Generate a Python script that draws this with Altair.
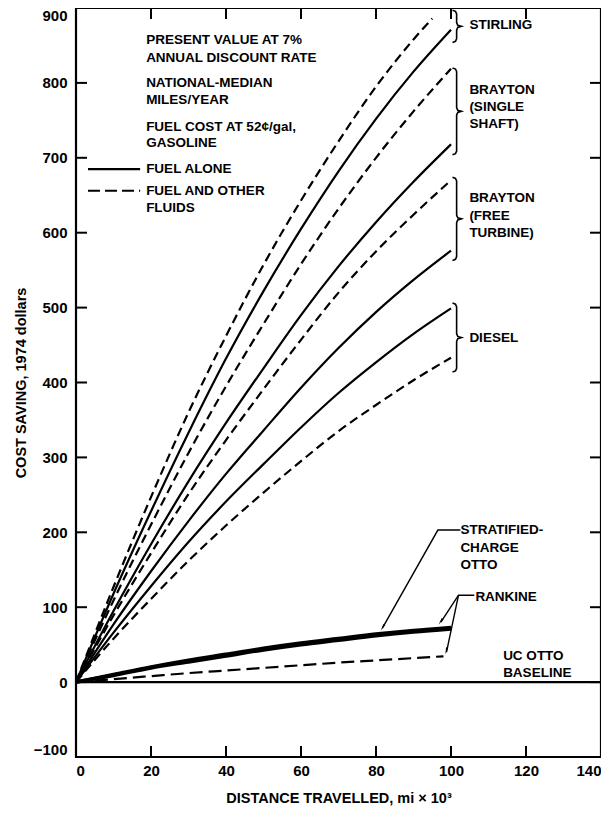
import altair as alt
import pandas as pd

# ---------------- data ----------------
distance = [0, 10, 20, 30, 40, 50, 60, 70, 80, 90, 100]
stirling_fuel = [0, 118, 228, 333, 432, 522, 605, 682, 752, 815, 871]
stirling_fluids_x = [0, 10, 20, 30, 40, 50, 60, 70, 80, 90, 95]
stirling_fluids = [0, 127, 247, 360, 462, 557, 643, 722, 795, 858, 886]
bss_fuel = [0, 95, 184, 268, 346, 419, 490, 555, 614, 668, 718]
bss_fluids = [0, 109, 210, 306, 395, 478, 558, 632, 700, 762, 819]
bft_fuel = [0, 77, 148, 215, 278, 336, 393, 446, 494, 537, 576]
bft_fluids = [0, 89, 172, 251, 323, 391, 457, 520, 575, 624, 670]
diesel_fuel = [0, 66, 128, 187, 241, 291, 340, 386, 427, 465, 499]
diesel_fluids = [0, 58, 111, 162, 209, 253, 295, 335, 370, 403, 433]
sc_otto_fuel = [0, 10, 20, 29, 37, 45, 52, 58, 64, 69, 73]
rankine_fuel = [0, 9, 19, 27, 35, 43, 50, 56, 62, 67, 71]
rankine_fluids_x = [0, 10, 20, 30, 40, 50, 60, 70, 80, 90, 98]
rankine_fluids = [0, 4, 8, 12, 15.5, 19, 22.5, 26, 29, 32, 34.5]

x_ticks = [0, 20, 40, 60, 80, 100, 120, 140]
y_ticks = [-100, 0, 100, 200, 300, 400, 500, 600, 700, 800, 900]

# brace extents (top, bottom) for each engine group
brace_top = [897, 820, 674, 506]
brace_bottom = [854, 704, 563, 414]

# annotation texts (x, y in data units)
notes_text = ["PRESENT VALUE AT 7%", "ANNUAL DISCOUNT RATE", "NATIONAL-MEDIAN",
              "MILES/YEAR", "FUEL COST AT 52¢/gal,", "GASOLINE", "FUEL ALONE",
              "FUEL AND OTHER", "FLUIDS",
              "STIRLING", "BRAYTON", "(SINGLE", "SHAFT)", "BRAYTON", "(FREE",
              "TURBINE)", "DIESEL", "STRATIFIED-", "CHARGE", "OTTO", "RANKINE",
              "UC OTTO", "BASELINE"]
notes_x = [18.7] * 9 + [104.9] * 8 + [102.5, 102.5, 102.5, 106.5, 113.9, 113.9]
notes_y = [857, 833, 800, 777, 741, 720, 685, 656, 633,
           877, 790, 768, 745, 646, 622, 600, 459,
           203, 179, 156, 114, 35, 12]

# leader lines (label -> curve)
leader_id = [0, 0, 0, 1, 1, 1, 2, 2]
leader_x = [102.5, 96.5, 81.7, 106.2, 102.0, 97.3, 102.0, 98.8]
leader_y = [203, 203, 72, 116, 116, 80, 116, 40]
arrow_x = [81.9, 97.4, 98.8]
arrow_y = [74, 82, 43]
arrow_angle = [210, 214, 193]

W, H = 525, 749
FONT = "Liberation Sans"


def X(field="x"):
    return alt.X(f"{field}:Q", scale=alt.Scale(domain=[0, 140], nice=False, zero=False),
                 axis=alt.Axis(title="DISTANCE TRAVELLED, mi × 10³", values=x_ticks,
                               labelFlush=True, labelPadding=6, titleY=41,
                               titleBaseline="middle"))


def Y(field="y"):
    return alt.Y(f"{field}:Q", scale=alt.Scale(domain=[-100, 900], nice=False, zero=False),
                 axis=alt.Axis(title="COST SAVING, 1974 dollars", values=y_ticks,
                               labelFlush=True, labelPadding=9, titleX=-55,
                               titleBaseline="middle"))


def series_df(xs, ys, name):
    return pd.DataFrame({"x": xs, "y": ys, "name": name, "i": list(range(len(xs)))})


solid_df = pd.concat([
    series_df(distance, stirling_fuel, "stirling"),
    series_df(distance, bss_fuel, "bss"),
    series_df(distance, bft_fuel, "bft"),
    series_df(distance, diesel_fuel, "diesel"),
])
dashed_df = pd.concat([
    series_df(stirling_fluids_x, stirling_fluids, "stirling"),
    series_df(distance, bss_fluids, "bss"),
    series_df(distance, bft_fluids, "bft"),
    series_df(distance, diesel_fluids, "diesel"),
])
thick_df = pd.concat([
    series_df(distance, sc_otto_fuel, "sc otto"),
    series_df(distance, rankine_fuel, "rankine"),
])
rank_dash_df = series_df(rankine_fluids_x, rankine_fluids, "rankine fluids")

base_line = alt.Chart(solid_df).mark_line(color="black", strokeWidth=2.2,
                                          interpolate="monotone").encode(
    x=X(), y=Y(), detail="name:N", order="i:Q")
dashed_lines = alt.Chart(dashed_df).mark_line(color="black", strokeWidth=2.2,
                                              interpolate="monotone",
                                              strokeDash=[9, 5]).encode(
    x=X(), y=Y(), detail="name:N", order="i:Q")
thick_lines = alt.Chart(thick_df).mark_line(color="black", strokeWidth=3.6,
                                            interpolate="monotone").encode(
    x=X(), y=Y(), detail="name:N", order="i:Q")
rank_dash = alt.Chart(rank_dash_df).mark_line(color="black", strokeWidth=2.2,
                                              interpolate="monotone",
                                              strokeDash=[13, 6]).encode(
    x=X(), y=Y(), order="i:Q")

# zero baseline (UC Otto)
zero_df = pd.DataFrame({"x": [0, 140], "y": [0, 0]})
zero_line = alt.Chart(zero_df).mark_line(color="black", strokeWidth=2.2).encode(x=X(), y=Y())

# legend sample lines
leg_df = pd.DataFrame({"x": [3.2, 17.1, 3.2, 17.1], "y": [685, 685, 656, 656],
                       "k": ["s", "s", "d", "d"]})
leg_solid = alt.Chart(leg_df[leg_df.k == "s"]).mark_line(color="black", strokeWidth=2.2).encode(
    x=X(), y=Y())
leg_dash = alt.Chart(leg_df[leg_df.k == "d"]).mark_line(color="black", strokeWidth=2.2,
                                                        strokeDash=[12, 5]).encode(
    x=X(), y=Y())

# braces built from the group extents
brace_rows = []
for b, (t, btm) in enumerate(zip(brace_top, brace_bottom)):
    m = (t + btm) / 2.0
    h = 5.0
    pts = [(100.4, t), (101.2, t - 1.5), (101.5, t - h), (101.5, m + h), (101.8, m + 1.5),
           (102.8, m), (101.8, m - 1.5), (101.5, m - h), (101.5, btm + h),
           (101.2, btm + 1.5), (100.4, btm)]
    for i, (px, py) in enumerate(pts):
        brace_rows.append({"b": b, "i": i, "x": px, "y": py})
brace_df = pd.DataFrame(brace_rows)
braces = alt.Chart(brace_df).mark_line(color="black", strokeWidth=1.6).encode(
    x=X(), y=Y(), detail="b:N", order="i:Q")

# leader lines and arrowheads
lead_df = pd.DataFrame({"g": leader_id, "x": leader_x, "y": leader_y,
                        "i": list(range(len(leader_x)))})
leaders = alt.Chart(lead_df).mark_line(color="black", strokeWidth=1.4).encode(
    x=X(), y=Y(), detail="g:N", order="i:Q")
arr_df = pd.DataFrame({"x": arrow_x, "y": arrow_y, "a": arrow_angle})
arrows = alt.Chart(arr_df).mark_point(shape="wedge", filled=True, color="black",
                                      size=70, opacity=1).encode(
    x=X(), y=Y(), angle=alt.Angle("a:Q", scale=None))

# texts
txt_df = pd.DataFrame({"t": notes_text, "x": notes_x, "y": notes_y})
texts = alt.Chart(txt_df).mark_text(align="left", baseline="middle", font=FONT,
                                    fontSize=13.5, fontWeight="bold", color="black").encode(
    x=X(), y=Y(), text="t:N")

# inward tick marks on all four sides
yt_df = pd.DataFrame({"v": y_ticks[1:-1]})
xt_df = pd.DataFrame({"v": x_ticks[1:-1]})
TL = 11
ticks_left = alt.Chart(yt_df).mark_rule(color="black", strokeWidth=2).encode(
    y=Y("v"), x=alt.value(0), x2=alt.value(TL))
ticks_right = alt.Chart(yt_df).mark_rule(color="black", strokeWidth=2).encode(
    y=Y("v"), x=alt.value(W - TL), x2=alt.value(W))
ticks_bottom = alt.Chart(xt_df).mark_rule(color="black", strokeWidth=2).encode(
    x=X("v"), y=alt.value(H - TL), y2=alt.value(H))
ticks_top = alt.Chart(xt_df).mark_rule(color="black", strokeWidth=2).encode(
    x=X("v"), y=alt.value(0), y2=alt.value(TL))

chart = alt.layer(
    zero_line, base_line, dashed_lines, thick_lines, rank_dash,
    leg_solid, leg_dash, braces, leaders, arrows, texts,
    ticks_left, ticks_right, ticks_bottom, ticks_top,
).properties(
    width=W, height=H,
    padding={"left": 68, "top": 0, "right": 0, "bottom": 52},
    autosize=alt.AutoSizeParams(type="none"),
    background="white",
).configure_view(
    stroke="black", strokeWidth=2.2,
).configure_axis(
    domain=False, ticks=False, tickSize=0, grid=False,
    labelFont=FONT, labelFontSize=15, labelFontWeight="bold", labelColor="black",
    titleFont=FONT, titleFontSize=14.5, titleFontWeight="bold", titleColor="black",
)

chart.save("out.html", embed_options={"renderer": "svg", "actions": False})
